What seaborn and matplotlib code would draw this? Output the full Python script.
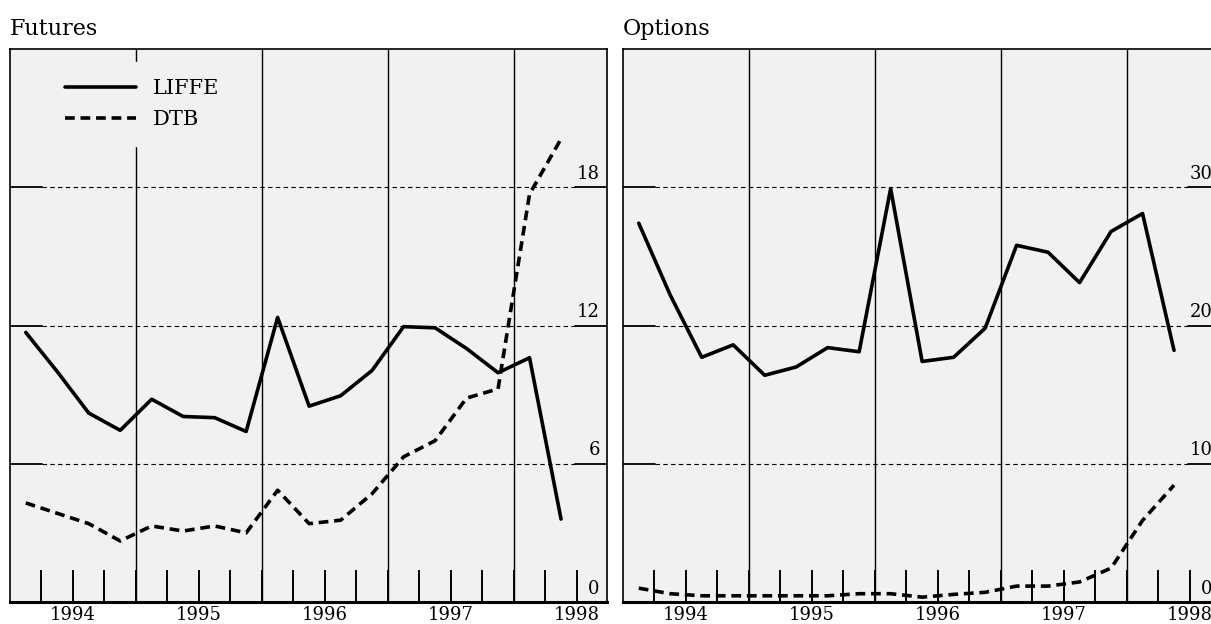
import numpy as np
import pandas as pd
import matplotlib.pyplot as plt
import seaborn as sns

# quarterly observations, 1994 Q1 .. 1998 Q2
quarters = ["1994Q1", "1994Q2", "1994Q3", "1994Q4",
            "1995Q1", "1995Q2", "1995Q3", "1995Q4",
            "1996Q1", "1996Q2", "1996Q3", "1996Q4",
            "1997Q1", "1997Q2", "1997Q3", "1997Q4",
            "1998Q1", "1998Q2"]

futures_liffe = [11.7, 10.0, 8.2, 7.45, 8.8, 8.05, 8.0, 7.4, 12.35, 8.5,
                 8.95, 10.05, 11.95, 11.9, 11.0, 9.95, 10.6, 3.6]
futures_dtb = [4.3, 3.85, 3.4, 2.65, 3.3, 3.08, 3.3, 3.0, 4.85, 3.4,
               3.55, 4.7, 6.3, 7.0, 8.85, 9.25, 17.7, 20.1]

options_liffe = [27.4, 22.2, 17.7, 18.6, 16.4, 17.0, 18.4, 18.1, 29.9, 17.4,
                 17.7, 19.8, 25.8, 25.3, 23.1, 26.8, 28.1, 18.2]
options_dtb = [1.0, 0.6, 0.45, 0.45, 0.45, 0.45, 0.45, 0.6, 0.6, 0.35,
               0.55, 0.7, 1.15, 1.15, 1.45, 2.45, 5.9, 8.45]

years = [1994, 1995, 1996, 1997, 1998]
futures_ticks = [0, 6, 12, 18]
options_ticks = [0, 10, 20, 30]

sns.set_theme(style="white", rc={"text.color": "black", "xtick.color": "black"})
plt.rcParams["font.family"] = ["DejaVu Serif"]

bg = "#f1f1f1"


def quarter_pos(q):
    # middle of the quarter on a decimal-year axis
    return int(q[:4]) + (int(q[-1]) - 1) * 0.25 + 0.125


def make_df(liffe, dtb):
    t = [quarter_pos(q) for q in quarters]
    return pd.DataFrame({
        "t": t * 2,
        "value": liffe + dtb,
        "market": ["LIFFE"] * len(t) + ["DTB"] * len(t),
    })


def draw_panel(ax, df, ticks, ymax, title, legend):
    ax.set_facecolor(bg)
    ax.set_xlim(1994.0, 1998.74)
    ax.set_ylim(0, ymax)

    # horizontal guides: dashed, with short solid stubs at both edges
    for v in ticks[1:]:
        ax.axhline(v, 0.054, 0.946, color="black", lw=0.8, ls=(0, (4, 3)), zorder=1)
        ax.axhline(v, 0, 0.054, color="black", lw=1.3, zorder=1)
        ax.axhline(v, 0.946, 1, color="black", lw=1.3, zorder=1)
    for v in ticks:
        ax.text(0.988, v + ymax * 0.008, str(v), transform=ax.get_yaxis_transform(),
                ha="right", va="bottom", fontsize=13, color="black")

    for y in years[1:]:
        ax.axvline(y, color="black", lw=1.0, zorder=1)

    sns.lineplot(data=df, x="t", y="value", style="market", color="black",
                 dashes={"LIFFE": "", "DTB": (2.7, 1.6)}, lw=2.6, ax=ax,
                 legend=legend, zorder=3)

    ax.xaxis.remove_overlapping_locs = False
    ax.set_xticks([y + 0.5 for y in years])
    ax.set_xticklabels([str(y) for y in years], fontsize=13, color="black")
    ax.set_xticks(np.arange(1994.25, 1998.74, 0.25), minor=True)
    ax.tick_params(axis="x", which="major", length=0, pad=3)
    ax.tick_params(axis="x", which="minor", direction="in", length=23,
                   width=1.4, color="black", bottom=True)
    ax.set_yticks([])
    ax.set_xlabel("")
    ax.set_ylabel("")
    for s in ax.spines.values():
        s.set_color("black")
        s.set_linewidth(1.2)
    ax.spines["bottom"].set_linewidth(2.2)
    ax.set_title(title, loc="left", fontsize=16, pad=10, color="black")

    if legend:
        leg = ax.legend(loc="upper left", bbox_to_anchor=(0.047, 0.995),
                        fontsize=15, handlelength=3.4, handletextpad=0.8,
                        labelspacing=0.6, frameon=True, borderaxespad=0.5,
                        borderpad=0.8)
        leg.get_frame().set_facecolor(bg)
        leg.get_frame().set_edgecolor(bg)
        leg.get_frame().set_alpha(1)
        leg.set_zorder(2)
        for txt in leg.get_texts():
            txt.set_color("black")


fig = plt.figure(figsize=(12.11, 6.24), dpi=100)
ax1 = fig.add_axes([10 / 1211, 22 / 624, 597 / 1211, 553 / 624])
ax2 = fig.add_axes([623 / 1211, 22 / 624, 597 / 1211, 553 / 624])

draw_panel(ax1, make_df(futures_liffe, futures_dtb), futures_ticks, 24, "Futures", True)
draw_panel(ax2, make_df(options_liffe, options_dtb), options_ticks, 40, "Options", False)

fig.savefig("out.png", dpi=100)
